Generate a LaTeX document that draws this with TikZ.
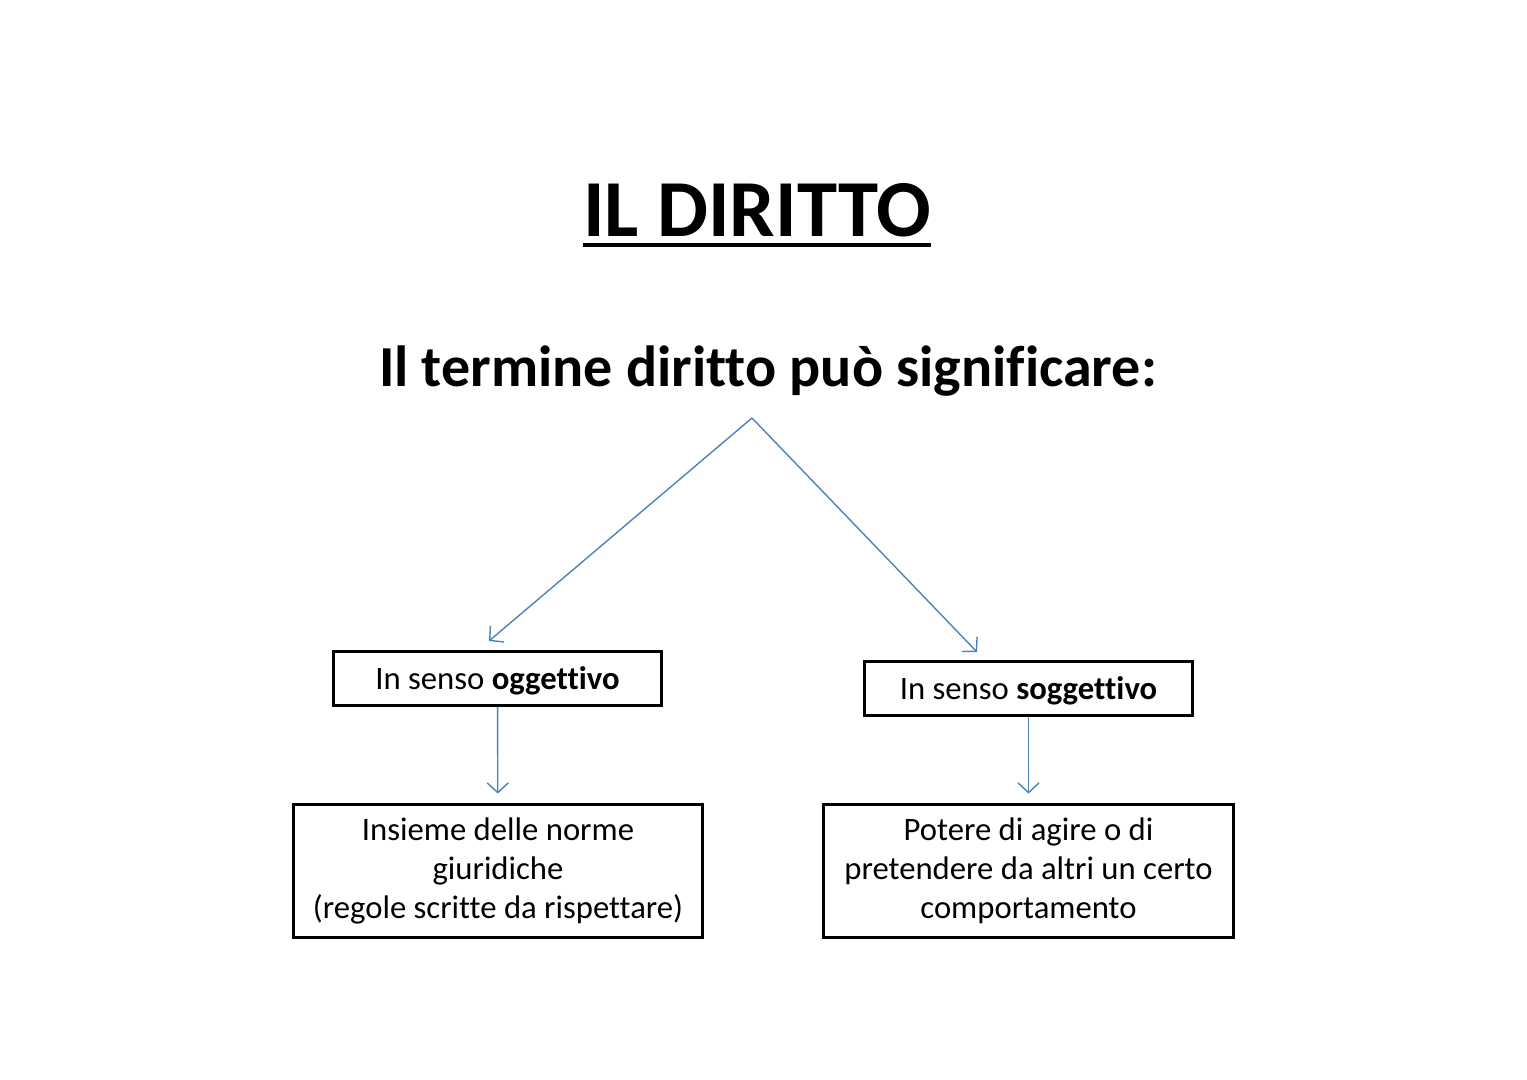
\documentclass[tikz,border=0pt]{standalone}
\usepackage{fontspec}
\setmainfont[Ligatures=NoCommon]{Carlito}
\usepackage{xcolor}
\usetikzlibrary{arrows.meta}
\definecolor{arrowblue}{HTML}{4F81BD}

\begin{document}
\begin{tikzpicture}[x=0.01cm,y=-0.01cm,
    box/.style={draw=black, line width=0.85pt, fill=white, font=\fontsize{9.3}{11.1}\selectfont, align=center, inner sep=0pt},
    link/.style={draw=arrowblue, line width=0.4pt, -{Straight Barb[length=2.8pt,width=6pt]}}]
    \useasboundingbox (0,0) rectangle (1527,1080);

    \node[inner sep=0pt, anchor=base, font=\fontsize{23}{26}\selectfont\bfseries] (title) at (757,237) {IL DIRITTO};
    \draw[line width=1.1pt] ([yshift=-2.4pt]title.base west) -- ([yshift=-2.4pt]title.base east);

    \node[anchor=base, font=\fontsize{16.5}{20}\selectfont\bfseries] (sub) at (768,387) {Il termine diritto può significare:};

    \coordinate (apex) at (752,418);
    \coordinate (tipL) at (489,641);
    \coordinate (tipR) at (977,652);

    \node[box, minimum width=3.27cm, minimum height=0.53cm, text depth=0.5pt] (ogg) at (497.5,678.5) {In senso \textbf{oggettivo}};
    \node[box, minimum width=3.27cm, minimum height=0.53cm, text depth=0.5pt] (sogg) at (1028.5,688.5) {In senso \textbf{soggettivo}};

    \node[box, minimum width=4.08cm, minimum height=1.32cm] (norme) at (498,871) {Insieme delle norme\\giuridiche\\(regole scritte da rispettare)};
    \node[box, minimum width=4.09cm, minimum height=1.32cm] (potere) at (1028.5,871) {Potere di agire o di\\pretendere da altri un certo\\comportamento};

    % arrows
    \draw[link] (apex) -- (tipL);
    \draw[link] (apex) -- (tipR);
    \draw[link, shorten >=2.8pt] (ogg) -- (norme);
    \draw[link, shorten >=2.8pt] (sogg) -- (potere);
\end{tikzpicture}
\end{document}
